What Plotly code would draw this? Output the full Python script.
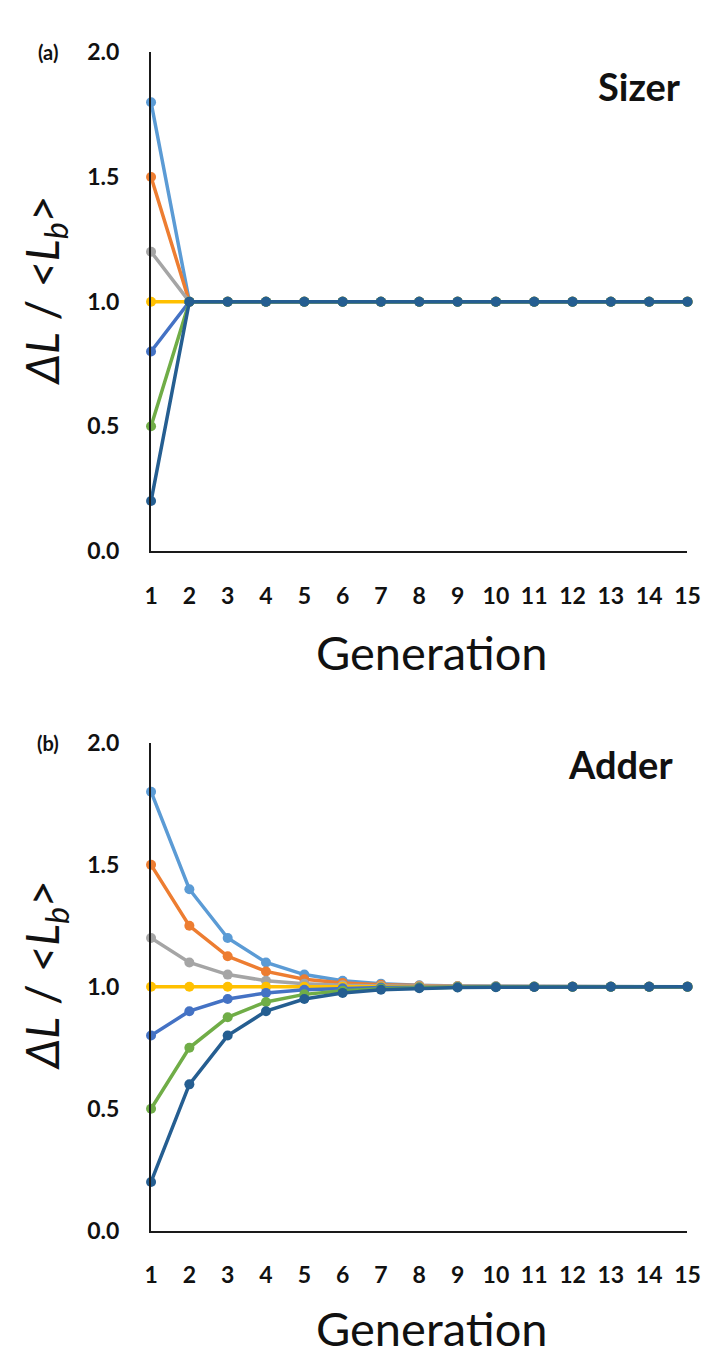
import plotly.graph_objects as go

generations = list(range(1, 16))
series_names = ["1.8", "1.5", "1.2", "1.0", "0.8", "0.5", "0.2"]
colors = ["#5B9BD5", "#ED7D31", "#A5A5A5", "#FFC000", "#4472C4", "#70AD47", "#255E91"]

sizer_light_blue = [1.8] + [1.0] * 14
sizer_orange = [1.5] + [1.0] * 14
sizer_gray = [1.2] + [1.0] * 14
sizer_yellow = [1.0] * 15
sizer_blue = [0.8] + [1.0] * 14
sizer_green = [0.5] + [1.0] * 14
sizer_dark_blue = [0.2] + [1.0] * 14

adder_light_blue = [1.8, 1.4, 1.2, 1.1, 1.05, 1.025, 1.013, 1.006, 1.003, 1.002, 1.001, 1.0, 1.0, 1.0, 1.0]
adder_orange = [1.5, 1.25, 1.125, 1.063, 1.031, 1.016, 1.008, 1.004, 1.002, 1.001, 1.0, 1.0, 1.0, 1.0, 1.0]
adder_gray = [1.2, 1.1, 1.05, 1.025, 1.013, 1.006, 1.003, 1.002, 1.001, 1.0, 1.0, 1.0, 1.0, 1.0, 1.0]
adder_yellow = [1.0] * 15
adder_blue = [0.8, 0.9, 0.95, 0.975, 0.988, 0.994, 0.997, 0.998, 0.999, 1.0, 1.0, 1.0, 1.0, 1.0, 1.0]
adder_green = [0.5, 0.75, 0.875, 0.938, 0.969, 0.984, 0.992, 0.996, 0.998, 0.999, 1.0, 1.0, 1.0, 1.0, 1.0]
adder_dark_blue = [0.2, 0.6, 0.8, 0.9, 0.95, 0.975, 0.988, 0.994, 0.997, 0.998, 0.999, 1.0, 1.0, 1.0, 1.0]

sizer = [sizer_light_blue, sizer_orange, sizer_gray, sizer_yellow, sizer_blue, sizer_green, sizer_dark_blue]
adder = [adder_light_blue, adder_orange, adder_gray, adder_yellow, adder_blue, adder_green, adder_dark_blue]

y_ticks = [0.0, 0.5, 1.0, 1.5, 2.0]
x_ticks = generations

W, H = 709, 1364
fig = go.Figure()

for data, xa, ya in [(sizer, "x", "y"), (adder, "x2", "y2")]:
    for name, col, vals in zip(series_names, colors, data):
        fig.add_trace(go.Scatter(
            x=generations, y=vals, mode="lines+markers", name=name,
            line=dict(color=col, width=3.5), marker=dict(color=col, size=10),
            xaxis=xa, yaxis=ya, cliponaxis=False, showlegend=False))

tickfont = dict(family="Lato", size=23, color="#111111", weight="bold")
xdom = [140 / W, 692 / W]
common_x = dict(range=[1, 15], tickvals=x_ticks, showline=True, linecolor="#1a1a1a", linewidth=2,
                showgrid=False, zeroline=False, ticks="", tickfont=tickfont, ticklabelstandoff=23,
                domain=xdom, fixedrange=True)
common_y = dict(range=[0, 2], tickvals=y_ticks, tickformat=".1f", showline=True, linecolor="#1a1a1a",
                linewidth=2, showgrid=False, zeroline=False, ticks="", tickfont=tickfont,
                ticklabelstandoff=25, fixedrange=True)

top_dom = [1 - 539 / H, 1 - 30 / H]
bot_dom = [1 - 1233 / H, 1 - 735 / H]

fig.update_layout(
    width=W, height=H, margin=dict(l=0, r=0, t=0, b=0),
    paper_bgcolor="white", plot_bgcolor="white",
    xaxis=dict(common_x, anchor="y"),
    yaxis=dict(common_y, domain=top_dom, anchor="x"),
    xaxis2=dict(common_x, anchor="y2"),
    yaxis2=dict(common_y, domain=bot_dom, anchor="x2"),
)

def ann(text, x, y, size, bold=False, xanchor="center", yanchor="middle", angle=0):
    fig.add_annotation(text=text, x=x / W, y=1 - y / H, xref="paper", yref="paper",
                       showarrow=False, xanchor=xanchor, yanchor=yanchor, textangle=angle,
                       borderpad=0,
                       font=dict(family="Lato", size=size, color="#111111",
                                 weight="bold" if bold else "normal"))

ytitle = "<i>ΔL</i> / <i>&lt;L<sub>b</sub>&gt;</i>"
ann("(a)", 34, 30, 20, bold=True)
ann("(b)", 34, 735, 20, bold=True)
ann("Sizer", 686, 64, 38, bold=True, xanchor="right")
ann("Adder", 678, 757, 38, bold=True, xanchor="right")
ann(ytitle, 31, 273, 46, angle=-90)
ann(ytitle, 31, 972, 46, angle=-90)
ann("Generation", 429, 672, 47, yanchor="bottom")
ann("Generation", 429, 1362, 47, yanchor="bottom")

fig.write_html("out.html")
